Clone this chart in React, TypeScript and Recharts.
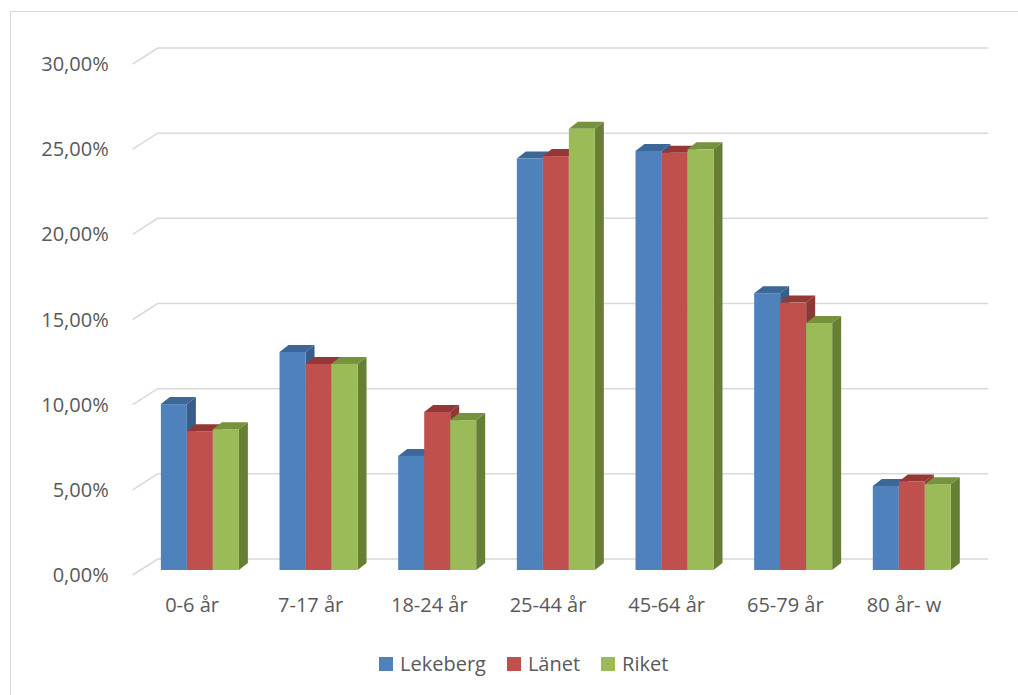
import { BarChart, Bar, XAxis, YAxis, CartesianGrid } from 'recharts';

const categories = ['0-6 år', '7-17 år', '18-24 år', '25-44 år', '45-64 år', '65-79 år', '80 år- w'];
const lekeberg = [9.74, 12.8, 6.7, 24.16, 24.6, 16.25, 4.93];
const lanet = [8.15, 12.1, 9.28, 24.3, 24.5, 15.7, 5.2];
const riket = [8.27, 12.1, 8.8, 25.9, 24.7, 14.5, 5.04];
const yTicks = [0, 5, 10, 15, 20, 25, 30];

const seriesColors = {
  Lekeberg: { front: '#4F81BD', top: '#3D6796', side: '#385D8A' },
  Länet: { front: '#C0504D', top: '#953735', side: '#8C3836' },
  Riket: { front: '#9BBB59', top: '#76923C', side: '#677E35' },
};

const chartData = categories.map((name, i) => ({
  name,
  Lekeberg: lekeberg[i],
  Länet: lanet[i],
  Riket: riket[i],
}));

// fake 3D: the bars stand a bit behind the front plane, the wall further back
const PLANE_X = 8;
const PLANE_Y = 5;
const DEPTH_X = 9;
const DEPTH_Y = 7;
const WALL_X = 25;
const WALL_Y = 16;

const textColor = '#595959';
const fontFamily = '"Open Sans", sans-serif';

const Bar3D = (props: any) => {
  const { x, y, width, height, colors } = props;
  if (!height || height <= 0) return null;
  const fx = x + PLANE_X;
  const fy = y - PLANE_Y;
  const topFace = `${fx},${fy} ${fx + DEPTH_X},${fy - DEPTH_Y} ${fx + width + DEPTH_X},${fy - DEPTH_Y} ${fx + width},${fy}`;
  const sideFace = `${fx + width},${fy} ${fx + width + DEPTH_X},${fy - DEPTH_Y} ${fx + width + DEPTH_X},${fy + height - DEPTH_Y} ${fx + width},${fy + height}`;
  return (
    <g>
      <polygon points={sideFace} fill={colors.side} />
      <polygon points={topFace} fill={colors.top} />
      <rect x={fx} y={fy} width={width} height={height} fill={colors.front} />
    </g>
  );
};

const GridLine = (props: any) => {
  const { x1, y1, x2, y2 } = props;
  const d = `M${x1},${y1} L${x1 + WALL_X},${y1 - WALL_Y} L${x2 + WALL_X},${y2 - WALL_Y}`;
  return <path d={d} fill="none" stroke="#D9D9D9" strokeWidth={1.5} />;
};

const formatPct = (v: number) => `${v.toFixed(2).replace('.', ',')}%`;

const legendItems = [
  { label: 'Lekeberg', color: seriesColors.Lekeberg.front },
  { label: 'Länet', color: seriesColors.Länet.front },
  { label: 'Riket', color: seriesColors.Riket.front },
];

export default function App() {
  return (
    <div style={{ position: 'absolute', left: 0, top: 0, width: 1018, height: 695, overflow: 'hidden', background: '#fff' }}>
      <div
        style={{
          position: 'absolute',
          left: 10,
          top: 11,
          width: 1030,
          height: 700,
          border: '1px solid #D9D9D9',
        }}
      />
      <div style={{ position: 'absolute', left: 0, top: 0 }}>
        <BarChart
          width={1018}
          height={695}
          data={chartData}
          margin={{ top: 64, right: 54.7, bottom: 80, left: 0 }}
          barCategoryGap="17%"
          barGap={0}
        >
          <CartesianGrid vertical={false} horizontal={(p: any) => <GridLine {...p} />} />
          <XAxis
            dataKey="name"
            height={40}
            axisLine={false}
            tickLine={false}
            tickSize={0}
            tickMargin={23}
            tick={{ fill: textColor, fontSize: 20, fontFamily }}
          />
          <YAxis
            domain={[0, 30]}
            ticks={yTicks}
            width={132.7}
            axisLine={false}
            tickLine={false}
            tickSize={0}
            tickMargin={24}
            tickFormatter={formatPct}
            tick={{ fill: textColor, fontSize: 20, fontFamily }}
          />
          <Bar dataKey="Lekeberg" isAnimationActive={false} shape={(p: any) => <Bar3D {...p} colors={seriesColors.Lekeberg} />} />
          <Bar dataKey="Länet" isAnimationActive={false} shape={(p: any) => <Bar3D {...p} colors={seriesColors.Länet} />} />
          <Bar dataKey="Riket" isAnimationActive={false} shape={(p: any) => <Bar3D {...p} colors={seriesColors.Riket} />} />
        </BarChart>
      </div>
      <div
        style={{
          position: 'absolute',
          left: 379,
          top: 653.5,
          display: 'flex',
          alignItems: 'center',
          fontFamily,
          fontSize: 20,
          lineHeight: '20px',
          color: textColor,
        }}
      >
        {legendItems.map((item, i) => (
          <div key={item.label} style={{ display: 'flex', alignItems: 'center', marginLeft: i === 0 ? 0 : 21 }}>
            <span style={{ display: 'inline-block', width: 14, height: 14, background: item.color, marginRight: 7 }} />
            <span>{item.label}</span>
          </div>
        ))}
      </div>
    </div>
  );
}
